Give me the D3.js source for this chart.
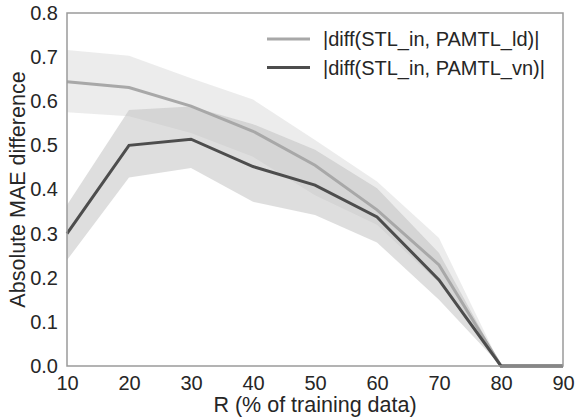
<!DOCTYPE html>
<html>
<head>
<meta charset="utf-8">
<script src="https://cdn.jsdelivr.net/npm/d3@7"></script>
<style>
  body { margin: 0; background: #fff; }
  text { font-family: "Liberation Sans", Arial, sans-serif; fill: #262626; }
</style>
</head>
<body>
<script>
var width = 575,
    height = 418;

var margin = {top: 13, right: 12, bottom: 52, left: 67};

// data
var R = [10, 20, 30, 40, 50, 60, 70, 80, 90];
var ldMean  = [0.644, 0.631, 0.589, 0.532, 0.455, 0.354, 0.229, 0.0, 0.0];
var ldUpper = [0.716, 0.703, 0.652, 0.604, 0.512, 0.418, 0.290, 0.0, 0.0];
var ldLower = [0.575, 0.566, 0.528, 0.474, 0.387, 0.320, 0.188, 0.0, 0.0];
var vnMean  = [0.300, 0.500, 0.514, 0.452, 0.410, 0.338, 0.195, 0.0, 0.0];
var vnUpper = [0.365, 0.580, 0.588, 0.548, 0.490, 0.403, 0.256, 0.0, 0.0];
var vnLower = [0.240, 0.427, 0.449, 0.372, 0.342, 0.280, 0.150, 0.0, 0.0];
var yTicks = [0.0, 0.1, 0.2, 0.3, 0.4, 0.5, 0.6, 0.7, 0.8];
var legendLabels = ["|diff(STL_in, PAMTL_ld)|", "|diff(STL_in, PAMTL_vn)|"];

var svg = d3.select("body")
    .append("svg")
    .attr("width", width)
    .attr("height", height);

var x = d3.scaleLinear().domain([10, 90]).range([margin.left, width - margin.right]);
var y = d3.scaleLinear().domain([0, 0.8]).range([height - margin.bottom, margin.top]);

var series = [
    {mean: ldMean, upper: ldUpper, lower: ldLower, line: "#a8a8a8", band: "#d0d0d0", bandOpacity: 0.4},
    {mean: vnMean, upper: vnUpper, lower: vnLower, line: "#4d4d4d", band: "#bdbdbd", bandOpacity: 0.5}
];

var area = d3.area()
    .x(function(d) { return x(d.r); })
    .y0(function(d) { return y(d.lo); })
    .y1(function(d) { return y(d.hi); });

var line = d3.line()
    .x(function(d) { return x(d.r); })
    .y(function(d) { return y(d.v); });

// bands first, lines on top
series.forEach(function(s) {
    var pts = R.map(function(r, i) { return {r: r, lo: s.lower[i], hi: s.upper[i]}; });
    svg.append("path")
        .attr("d", area(pts))
        .style("fill", s.band)
        .style("fill-opacity", s.bandOpacity);
});

series.forEach(function(s) {
    var pts = R.map(function(r, i) { return {r: r, v: s.mean[i]}; });
    svg.append("path")
        .attr("d", line(pts))
        .style("fill", "none")
        .style("stroke", s.line)
        .style("stroke-width", 3);
});

// frame
svg.append("rect")
    .attr("x", margin.left)
    .attr("y", margin.top)
    .attr("width", width - margin.left - margin.right)
    .attr("height", height - margin.top - margin.bottom)
    .style("fill", "none")
    .style("stroke", "#9a9a9a")
    .style("stroke-width", 1.5);

// axes (no tick marks, like seaborn white style)
var xAxis = svg.append("g")
    .attr("transform", "translate(0," + (height - margin.bottom) + ")")
    .call(d3.axisBottom(x).tickValues(R).tickSize(0).tickPadding(10));
var yAxis = svg.append("g")
    .attr("transform", "translate(" + margin.left + ",0)")
    .call(d3.axisLeft(y).tickValues(yTicks).tickFormat(d3.format(".1f")).tickSize(0).tickPadding(9));

[xAxis, yAxis].forEach(function(a) {
    a.select(".domain").remove();
    a.selectAll("text")
        .style("font-size", "20px")
        .style("font-family", "Liberation Sans, Arial, sans-serif")
        .style("fill", "#262626");
});
xAxis.selectAll("text").attr("dy", "0.71em");

svg.append("text")
    .attr("x", (margin.left + width - margin.right) / 2)
    .attr("y", 412)
    .attr("text-anchor", "middle")
    .style("font-size", "21.5px")
    .text("R (% of training data)");

svg.append("text")
    .attr("transform", "translate(25," + ((margin.top + height - margin.bottom) / 2) + ") rotate(-90)")
    .attr("text-anchor", "middle")
    .style("font-size", "21.5px")
    .text("Absolute MAE difference");

// legend
var legend = svg.append("g");
legendLabels.forEach(function(lab, i) {
    var ly = 39 + i * 28.5;
    legend.append("line")
        .attr("x1", 267).attr("x2", 310)
        .attr("y1", ly).attr("y2", ly)
        .style("stroke", series[i].line)
        .style("stroke-width", 3);
    legend.append("text")
        .attr("x", 323)
        .attr("y", ly)
        .attr("dy", "0.35em")
        .style("font-size", "20px")
        .text(lab);
});
</script>
</body>
</html>
